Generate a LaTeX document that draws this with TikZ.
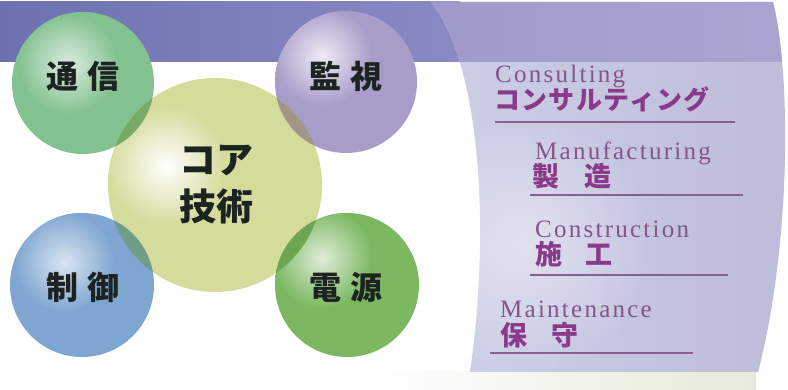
\documentclass[tikz,border=0pt]{standalone}
\usepackage{fontspec}
\usetikzlibrary{fadings}
\tikzfading[name=myglow, inner color=transparent!0, outer color=transparent!100]
\newfontfamily\jp{Noto Sans CJK JP}
\newfontfamily\jpk[LetterSpace=5]{Noto Sans CJK JP}
\newfontfamily\en[LetterSpace=9]{Liberation Serif}
\definecolor{bandL}{HTML}{6C72B0}
\definecolor{bandR}{HTML}{8A8AC2}
\definecolor{pbandL}{HTML}{9E9BCB}
\definecolor{pbandR}{HTML}{A9A4D0}
\definecolor{panelL}{HTML}{CDD0E7}
\definecolor{panelR}{HTML}{BDBCDA}
\definecolor{cTsu}{HTML}{84C191}
\definecolor{cKan}{HTML}{A89CC9}
\definecolor{cCore}{HTML}{D5DB9B}
\definecolor{cSei}{HTML}{7FA6D1}
\definecolor{cDen}{HTML}{7CB862}
\definecolor{ovA}{HTML}{78A966}
\definecolor{ovB}{HTML}{A29688}
\definecolor{ovC}{HTML}{6F9E86}
\definecolor{ovD}{HTML}{6EA553}
\definecolor{txtc}{HTML}{1C2320}
\definecolor{jpc}{HTML}{8A3A88}
\definecolor{enc}{HTML}{85548A}
\definecolor{linec}{HTML}{8A5F90}
\definecolor{botc}{HTML}{E6EAD8}
\begin{document}
\begin{tikzpicture}[x=1pt,y=-1pt,
  panelshape/.style={insert path={(431,2) .. controls (478,60) and (492,220) .. (470,372) -- (758,372) .. controls (790,250) and (792,80) .. (773,2) -- cycle}},
  ctext/.style={anchor=base, inner sep=0pt, text=txtc, font=\jp\bfseries\fontsize{32}{32}\selectfont},
  coretext/.style={anchor=base, inner sep=0pt, text=txtc, font=\jp\bfseries\fontsize{37}{37}\selectfont},
  entext/.style={anchor=base west, inner sep=0pt, text=enc, font=\en\fontsize{25}{25}\selectfont},
  jptext/.style={anchor=base west, inner sep=0pt, text=jpc, font=\jp\bfseries\fontsize{27}{27}\selectfont},
  rule/.style={draw=linec, line width=1.3pt}]
\useasboundingbox (0,0) rectangle (788,390);
\fill[white] (0,0) rectangle (788,390);
% top band
\shade[left color=bandL, right color=bandR] (0,2) rectangle (460,62);
% bottom light strip
\shade[left color=white, right color=botc] (370,372) rectangle (756,390);
% right panel
\shade[left color=panelL, right color=panelR, panelshape];
\begin{scope}
  \clip[panelshape];
  \fill[white, opacity=0.45, path fading=myglow] (525,245) circle[radius=130pt];
  \shade[left color=pbandL, right color=pbandR] (420,0) rectangle (790,62);
\end{scope}
% core circle
\fill[cCore] (215,185) circle[radius=107pt];
\begin{scope}
  \clip (215,185) circle[radius=107pt];
  \shade[inner color=white, outer color=cCore] (166,166) circle[radius=60pt];
\end{scope}
% outer circles
\fill[cTsu] (83,83) circle[radius=71pt];
\begin{scope}
  \clip (83,83) circle[radius=71pt];
  \shade[inner color=white!70!cTsu, outer color=cTsu] (68,64) circle[radius=50pt];
\end{scope}
\fill[cKan] (346,82) circle[radius=71pt];
\begin{scope}
  \clip (346,82) circle[radius=71pt];
  \shade[inner color=white!80!cKan, outer color=cKan] (322,56) circle[radius=50pt];
\end{scope}
\fill[cSei] (82,285) circle[radius=72pt];
\begin{scope}
  \clip (82,285) circle[radius=72pt];
  \shade[inner color=white!70!cSei, outer color=cSei] (64,262) circle[radius=50pt];
\end{scope}
\fill[cDen] (347,285) circle[radius=72pt];
\begin{scope}
  \clip (347,285) circle[radius=72pt];
  \shade[inner color=white!75!cDen, outer color=cDen] (322,258) circle[radius=50pt];
\end{scope}
% overlaps
\begin{scope}
  \clip (215,185) circle[radius=107pt];
  \fill[ovA] (83,83) circle[radius=71pt];
  \fill[ovB] (346,82) circle[radius=71pt];
  \fill[ovC] (82,285) circle[radius=72pt];
  \fill[ovD] (347,285) circle[radius=72pt];
\end{scope}
% circle labels
\node[ctext] (tsushin) at (83,89) {通\hspace{10pt}信};
\node[ctext] (kanshi) at (346,89) {監\hspace{10pt}視};
\node[ctext] (seigyo) at (83,300) {制\hspace{10pt}御};
\node[ctext] (dengen) at (346,300) {電\hspace{10pt}源};
\node[coretext] (coreA) at (216,174) {コア};
\node[coretext] (coreB) at (216,221) {技術};
% right list
\node[entext] (en1) at (495,83) {Consulting};
\node[jptext, font=\jpk\bfseries\fontsize{26}{26}\selectfont] (jp1) at (494,110) {コンサルティング};
\coordinate (l1a) at (495,122); \coordinate (l1b) at (735,122);
\draw[rule] (l1a) -- (l1b);
\node[entext] (en2) at (535,160) {Manufacturing};
\node[jptext] (jp2) at (532,187) {製\hspace{25pt}造};
\coordinate (l2a) at (530,195); \coordinate (l2b) at (743,195);
\draw[rule] (l2a) -- (l2b);
\node[entext] (en3) at (535,238) {Construction};
\node[jptext] (jp3) at (535,265) {施\hspace{23pt}工};
\coordinate (l3a) at (530,275); \coordinate (l3b) at (728,275);
\draw[rule] (l3a) -- (l3b);
\node[entext] (en4) at (500,318) {Maintenance};
\node[jptext] (jp4) at (500,345) {保\hspace{24pt}守};
\coordinate (l4a) at (490,353); \coordinate (l4b) at (693,353);
\draw[rule] (l4a) -- (l4b);
\end{tikzpicture}
\end{document}
